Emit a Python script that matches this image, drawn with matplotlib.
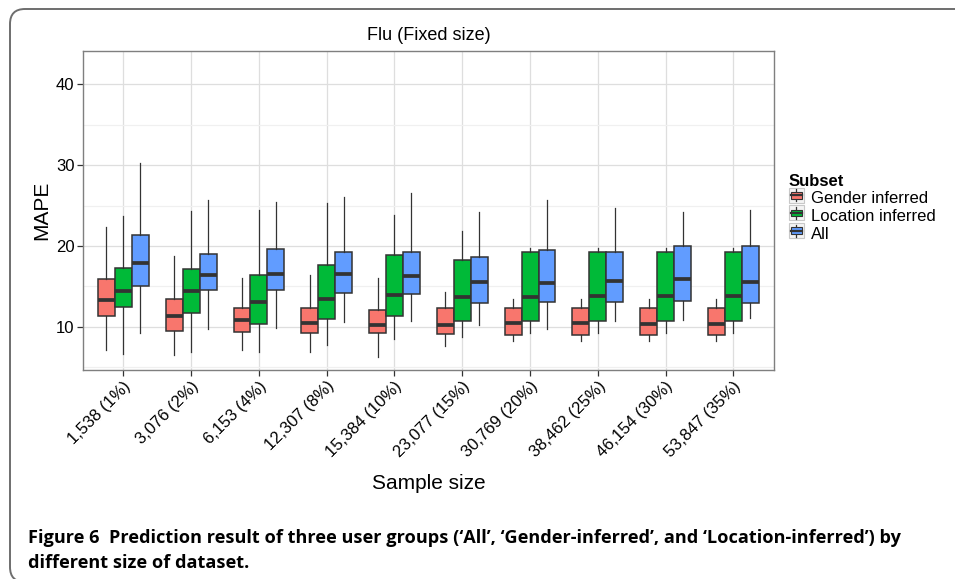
import matplotlib
matplotlib.use("Agg")
import matplotlib.pyplot as plt
from matplotlib.patches import Patch, Rectangle, FancyBboxPatch
from matplotlib.lines import Line2D
from matplotlib.legend_handler import HandlerBase

plt.rcParams["font.family"] = ["Liberation Sans", "DejaVu Sans"]

# ---- data ----
categories = ["1,538 (1%)", "3,076 (2%)", "6,153 (4%)", "12,307 (8%)", "15,384 (10%)",
              "23,077 (15%)", "30,769 (20%)", "38,462 (25%)", "46,154 (30%)", "53,847 (35%)"]

subsets = ["Gender inferred", "Location inferred", "All"]
colors = ["#F8766D", "#00BA38", "#619CFF"]

gender_lo  = [7.1, 6.5, 7.1, 6.9, 6.3, 7.6, 8.3, 8.3, 8.3, 8.3]
gender_q1  = [11.4, 9.5, 9.4, 9.2, 9.3, 9.1, 9.0, 9.0, 9.0, 9.0]
gender_med = [13.3, 11.3, 10.8, 10.5, 10.3, 10.3, 10.5, 10.5, 10.4, 10.4]
gender_q3  = [15.9, 13.4, 12.3, 12.4, 12.1, 12.3, 12.4, 12.4, 12.4, 12.4]
gender_hi  = [22.3, 18.8, 16.1, 16.4, 16.0, 14.3, 13.4, 13.4, 13.4, 13.4]

location_lo  = [6.6, 6.9, 6.9, 7.8, 8.5, 8.7, 9.2, 9.2, 9.2, 9.2]
location_q1  = [12.5, 11.7, 10.4, 11.0, 11.4, 10.7, 10.7, 10.7, 10.7, 10.7]
location_med = [14.4, 14.4, 13.1, 13.4, 14.0, 13.7, 13.7, 13.8, 13.8, 13.8]
location_q3  = [17.3, 17.2, 16.4, 17.6, 18.9, 18.3, 19.3, 19.3, 19.3, 19.3]
location_hi  = [23.7, 24.3, 24.4, 25.3, 23.8, 21.9, 19.8, 19.8, 19.8, 19.8]

all_lo  = [9.2, 9.8, 9.9, 10.6, 10.7, 10.2, 9.8, 10.7, 10.8, 11.1]
all_q1  = [15.1, 14.6, 14.6, 14.2, 14.1, 13.0, 13.1, 13.1, 13.2, 13.0]
all_med = [17.9, 16.4, 16.6, 16.5, 16.3, 15.5, 15.4, 15.7, 15.9, 15.5]
all_q3  = [21.3, 19.0, 19.6, 19.3, 19.3, 18.6, 19.5, 19.2, 20.0, 20.0]
all_hi  = [30.3, 25.7, 25.5, 26.0, 26.6, 24.2, 25.7, 24.7, 24.2, 24.4]

series = [
    (gender_lo, gender_q1, gender_med, gender_q3, gender_hi),
    (location_lo, location_q1, location_med, location_q3, location_hi),
    (all_lo, all_q1, all_med, all_q3, all_hi),
]

caption_1 = ("Figure 6  Prediction result of three user groups (\u2018All\u2019, "
             "\u2018Gender-inferred\u2019, and \u2018Location-inferred\u2019) by")
caption_2 = "different size of dataset."

EDGE = "#333333"


class BoxKeyHandler(HandlerBase):
    """ggplot-like boxplot legend key."""
    def create_artists(self, legend, orig, xd, yd, w, h, fontsize, trans):
        s = w
        x0 = xd
        y0 = yd + (h - s) / 2
        bg = Rectangle((x0, y0), s, s, facecolor="#F4F4F4", edgecolor="#C8C8C8",
                       lw=0.8, transform=trans)
        whisk = Line2D([x0 + s / 2] * 2, [y0 + 0.1 * s, y0 + 0.9 * s],
                       color=EDGE, lw=0.9, transform=trans)
        box = Rectangle((x0 + 0.12 * s, y0 + 0.27 * s), 0.76 * s, 0.46 * s,
                        facecolor=orig.get_facecolor(), edgecolor=EDGE, lw=0.8,
                        transform=trans)
        med = Line2D([x0 + 0.12 * s, x0 + 0.88 * s], [y0 + 0.5 * s] * 2,
                     color=EDGE, lw=1.6, transform=trans)
        return [bg, whisk, box, med]


fig = plt.figure(figsize=(9.55, 5.79), dpi=100)

# rounded frame around the figure
frame = FancyBboxPatch((0.10, -0.03), 10.0, 5.73,
                       boxstyle="round,pad=0,rounding_size=0.15",
                       transform=fig.dpi_scale_trans, facecolor="none",
                       edgecolor="#6E6E6E", lw=1.4, clip_on=False)
fig.patches.append(frame)

ax = fig.add_axes([0.0866, 0.361, 0.7239, 0.5509])

offsets = [-0.25, 0.0, 0.25]
for k, (lo, q1, med, q3, hi) in enumerate(series):
    stats = [dict(whislo=lo[i], q1=q1[i], med=med[i], q3=q3[i], whishi=hi[i], fliers=[])
             for i in range(len(categories))]
    pos = [i + 1 + offsets[k] for i in range(len(categories))]
    ax.bxp(stats, positions=pos, widths=0.25, patch_artist=True, showcaps=False,
           manage_ticks=False,
           boxprops=dict(facecolor=colors[k], edgecolor=EDGE, lw=1.1),
           whiskerprops=dict(color=EDGE, lw=0.9),
           medianprops=dict(color=EDGE, lw=2.7, solid_capstyle="butt"),
           zorder=3)

ax.set_xlim(0.4, len(categories) + 0.6)
ax.set_ylim(4.68, 44.1)
ax.set_yticks([10, 20, 30, 40])
ax.set_yticks([5, 15, 25, 35], minor=True)
ax.set_xticks(range(1, len(categories) + 1))
ax.set_xticklabels(categories, rotation=45, ha="right", rotation_mode="anchor")

ax.grid(True, which="major", color="#DEDEDE", lw=0.9, zorder=0)
ax.grid(True, which="minor", axis="y", color="#F0F0F0", lw=0.9, zorder=0)
ax.set_axisbelow(True)
for sp in ax.spines.values():
    sp.set_color("#7F7F7F")
    sp.set_linewidth(1.0)

ax.tick_params(axis="both", which="major", length=4, width=0.9, color=EDGE,
               labelsize=12, labelcolor="black", pad=2)
ax.tick_params(axis="both", which="minor", length=0)

ax.set_title("Flu (Fixed size)", fontsize=13, pad=8)
ax.set_xlabel("Sample size", fontsize=15, labelpad=10)
ax.set_ylabel("MAPE", fontsize=15, labelpad=3)

handles = [Patch(facecolor=c) for c in colors]
leg = fig.legend(handles, subsets, handler_map={Patch: BoxKeyHandler()},
                 loc="upper left", bbox_to_anchor=(0.826, 0.700), frameon=False,
                 title="Subset", fontsize=12, alignment="left",
                 title_fontproperties={"weight": "bold", "size": 12},
                 handlelength=0.9, handleheight=0.9, handletextpad=0.45,
                 labelspacing=0.12, borderpad=0, borderaxespad=0)

fig.text(0.029, 0.070, caption_1, fontsize=13.1, fontweight="bold",
         family=["Open Sans", "DejaVu Sans"], ha="left", va="center")
fig.text(0.029, 0.027, caption_2, fontsize=13.1, fontweight="bold",
         family=["Open Sans", "DejaVu Sans"], ha="left", va="center")

fig.savefig("out.png", dpi=100)
